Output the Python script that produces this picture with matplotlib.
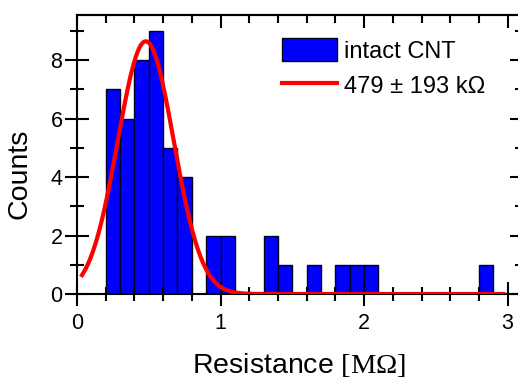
"""
Histogram of CNT resistance with Gaussian fit.
"""

import numpy as np
import matplotlib

matplotlib.use("Agg")
import matplotlib.pyplot as plt
from matplotlib.ticker import MultipleLocator

plt.rcParams["font.family"] = ["Liberation Sans", "DejaVu Sans"]
plt.rcParams["mathtext.fontset"] = "custom"
plt.rcParams["mathtext.rm"] = "Liberation Serif"

# ── data ─────────────────────────────────────────────────────────────────────

bin_left = [0.2, 0.3, 0.4, 0.5, 0.6, 0.7, 0.9, 1.0, 1.3, 1.4, 1.6, 1.8, 1.9, 2.0, 2.8]
counts = [7, 6, 8, 9, 5, 4, 2, 2, 2, 1, 1, 1, 1, 1, 1]
bin_width = 0.1

fit_amp = 8.65
fit_mu = 0.479
fit_sigma = 0.195
fit_range = (0.035, 2.97)

hist_label = "intact CNT"
fit_label = "479 ± 193 kΩ"

# ── plot ─────────────────────────────────────────────────────────────────────

fig = plt.figure(figsize=(5.18, 3.8), dpi=100)
ax = fig.add_axes([77 / 518, 1 - 294 / 380, 445 / 518, 279 / 380])

bars = ax.bar(bin_left, counts, width=bin_width, align="edge",
              color="#0000ff", edgecolor="#000022", linewidth=1.0, label=hist_label)

xf = np.linspace(fit_range[0], fit_range[1], 400)
yf = fit_amp * np.exp(-((xf - fit_mu) ** 2) / (2 * fit_sigma ** 2))
line, = ax.plot(xf, yf, color="#ff0000", lw=3.0, label=fit_label, zorder=3)

ax.set_xlim(0, 3.1)
ax.set_ylim(0, 9.55)

ax.xaxis.set_major_locator(MultipleLocator(1))
ax.xaxis.set_minor_locator(MultipleLocator(0.2))
ax.yaxis.set_major_locator(MultipleLocator(2))
ax.yaxis.set_minor_locator(MultipleLocator(1))

for s in ax.spines.values():
    s.set_linewidth(1.5)

ax.tick_params(which="both", direction="inout", top=False, right=True,
               width=1.5, labelsize=15.5)
ax.tick_params(which="major", length=17)
ax.tick_params(which="minor", length=9.5)
ax.tick_params(axis="x", pad=5)
ax.tick_params(axis="y", pad=2)

top = ax.secondary_xaxis("top")
top.xaxis.set_major_locator(MultipleLocator(1))
top.xaxis.set_minor_locator(MultipleLocator(0.2))
top.tick_params(which="both", direction="in", width=1.5, labeltop=False)
top.tick_params(which="major", length=9)
top.tick_params(which="minor", length=5.5)
top.spines["top"].set_linewidth(1.5)

ax.set_xlabel(r"Resistance $[\mathrm{M\Omega}]$", fontsize=20.5)
ax.set_ylabel("Counts", fontsize=20.5)
ax.xaxis.set_label_coords(0.5, -0.205)
ax.yaxis.set_label_coords(-0.099, 0.43)

leg = ax.legend([bars, line], [hist_label, fit_label],
                loc="upper left", bbox_to_anchor=(0.44, 0.95), frameon=False,
                fontsize=17, handlelength=2.3, handleheight=1.1,
                handletextpad=0.3, labelspacing=0.45, borderaxespad=0)

fig.savefig("out.png", dpi=100)
